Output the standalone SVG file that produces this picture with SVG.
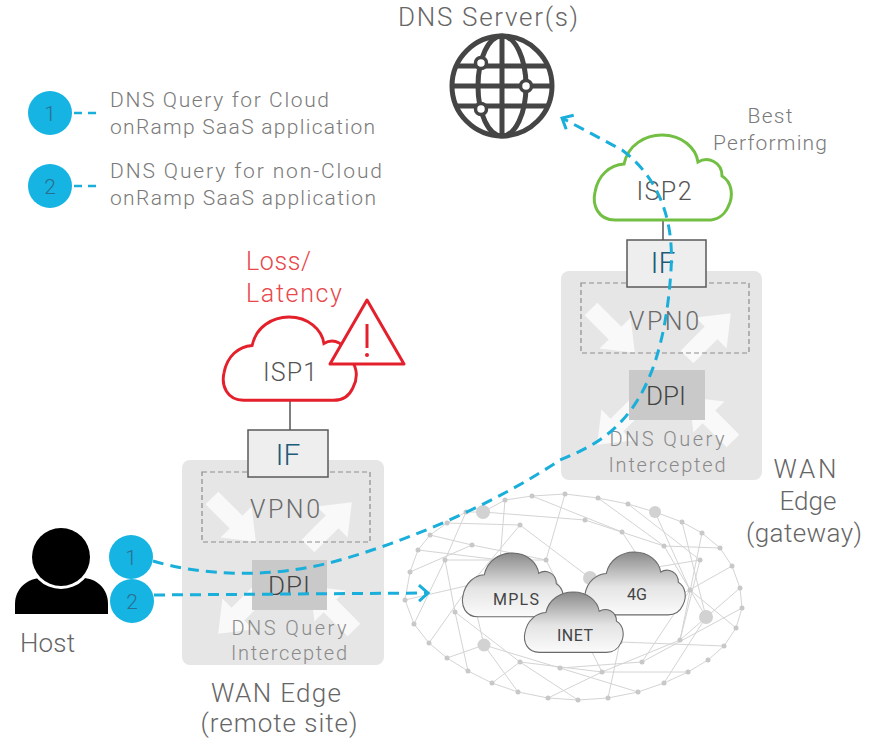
<svg xmlns="http://www.w3.org/2000/svg" xmlns:xlink="http://www.w3.org/1999/xlink" width="874" height="741" viewBox="0 0 874 741">
  <defs>
    <style>
      text { font-family: Roboto, "Open Sans", "Liberation Sans", sans-serif; font-weight: 300; }
      .lbl { fill: #7a7a7a; font-size: 21px; }
      .big { fill: #666666; font-size: 26px; }
      .dev-box { fill: #e6e6e6; }
      .dev-dash { fill: none; stroke: #8c8c8c; stroke-width: 1.2; stroke-dasharray: 5 3; }
      .dev-arrow { fill: #ffffff; opacity: 0.75; }
      .dpi-box { fill: #c9c9c9; }
      .if-box { fill: #eeeeee; stroke: #5a5a5a; stroke-width: 1.5; }
      .if-txt { fill: #1d5b79; font-size: 30px; text-anchor: middle; }
      .vpn-txt { fill: #6a6a6a; font-size: 25px; text-anchor: middle; }
      .dpi-txt { fill: #444444; font-size: 26px; text-anchor: middle; }
      .sub-txt { fill: #8a8a8a; font-size: 20px; text-anchor: middle; }
      .badge { fill: #16b4e3; }
      .badge-txt { fill: #2a6f8f; font-size: 21px; text-anchor: middle; }
      .flow { fill: none; stroke: #1aaedb; stroke-width: 3; stroke-dasharray: 11 7; }
      .mesh { fill: none; stroke: #d4d4d4; stroke-width: 1; }
      .node { fill: #c8c8c8; }
      .node-big { fill: #d2d2d2; }
      .cloud-sm { fill: url(#cloudGrad); stroke: #6a6a6a; stroke-width: 1.5; vector-effect: non-scaling-stroke; }
      .cloud-sm-txt { fill: #444444; font-size: 16px; text-anchor: middle; font-weight: 400; }
      .isp-txt { fill: #555555; font-size: 25px; text-anchor: middle; }
      .link { stroke: #555555; stroke-width: 1.5; }
    </style>
    <linearGradient id="cloudGrad" x1="0" y1="0" x2="0" y2="1">
      <stop offset="0" stop-color="#8a8a8a"/>
      <stop offset="0.55" stop-color="#e4e4e4"/>
      <stop offset="1" stop-color="#fbfbfb"/>
    </linearGradient>
    <!-- generic cloud outline, 139 x 85 -->
    <path id="cloud" d="M20,85 C3,85 -3,70 0,57 C3,40 15,30 29,29 C33,10 50,0 67,0 C87,0 101,13 103,27 C113,21 127,27 127,41 C137,47 139,61 133,72 C129,81 121,85 113,85 Z"/>
    <!-- fat arrow of the router symbol, pointing +x -->
    <path id="rarrow" d="M0,-9 H34 V-22 L62,0 L34,22 V9 H0 Z"/>
    <marker id="chev" viewBox="-12 -10 14 20" markerWidth="14" markerHeight="20" refX="0" refY="0" orient="auto" markerUnits="userSpaceOnUse">
      <path d="M-9,-8 L0,0 L-9,8" fill="none" stroke="#1aaedb" stroke-width="3" stroke-linejoin="miter"/>
    </marker>
  </defs>

  <rect width="874" height="741" fill="#ffffff"/>

  <!-- legend -->
  <g id="legend">
    <circle class="badge" cx="50" cy="113" r="22"/>
    <text class="badge-txt" x="50" y="121">1</text>
    <line x1="74" y1="113" x2="97" y2="113" stroke="#1aaedb" stroke-width="2.5" stroke-dasharray="8 6"/>
    <text class="lbl" x="110" y="107" textLength="219">DNS Query for Cloud</text>
    <text class="lbl" x="110" y="134" textLength="265">onRamp SaaS application</text>
    <circle class="badge" cx="50" cy="186" r="22"/>
    <text class="badge-txt" x="50" y="194">2</text>
    <line x1="74" y1="186" x2="97" y2="186" stroke="#1aaedb" stroke-width="2.5" stroke-dasharray="8 6"/>
    <text class="lbl" x="110" y="178" textLength="272">DNS Query for non-Cloud</text>
    <text class="lbl" x="110" y="205" textLength="266">onRamp SaaS application</text>
  </g>

  <!-- DNS servers -->
  <g id="dns-server">
    <text class="big" x="398" y="26" font-size="24" textLength="180">DNS Server(s)</text>
    <g fill="none" stroke="#454545" stroke-width="5">
      <circle cx="502" cy="86" r="50"/>
      <ellipse cx="502" cy="86" rx="24" ry="50"/>
      <line x1="502" y1="36" x2="502" y2="136"/>
      <line x1="456" y1="66" x2="548" y2="66"/>
      <line x1="452" y1="86" x2="552" y2="86"/>
      <line x1="456" y1="106" x2="548" y2="106"/>
    </g>
    <g fill="#ffffff" stroke="#454545" stroke-width="3.5">
      <circle cx="481" cy="63" r="5.5"/>
      <circle cx="481" cy="109" r="5.5"/>
      <circle cx="526" cy="86" r="5.5"/>
    </g>
  </g>

  <!-- transport mesh -->
  <g id="transport">
    <path class="mesh" d="M405,600 L410,572 L418,550 L430,535 L447,523 L466,512 L483,512 L505,500 L532,496 L565,494 M598,498 L628,504 L655,512 L682,522 L702,533 L720,548 L732,566 L740,588 L742,608 L736,628 M724,646 L708,660 L688,672 L664,683 L638,692 L608,698 L578,700 L548,698 L518,692 M492,683 L468,671 L447,658 L429,643 L414,624 L405,600"/>
    <path class="mesh" d="M410,572 L472,545 M418,550 L500,560 M447,523 L520,525 M483,512 L585,520 M505,500 L500,560 M532,496 L622,532 M598,498 L664,546 M628,504 L700,560 M655,512 L690,590 M682,522 L706,617 M702,533 L680,640 M732,566 L668,602 M740,588 L680,640 M742,608 L642,662 M724,646 L620,642 M688,672 L602,672 M638,692 L560,668 M578,700 L520,662 M518,692 L484,645 M468,671 L455,612 M429,643 L470,585 M414,624 L445,560 M445,560 L500,560 M472,545 L546,560 M520,525 L590,578 M585,520 L664,546 M622,532 L668,602 M664,546 L706,617 M700,560 L680,640 M690,590 L642,662 M706,617 L664,683 M680,640 L602,672 M642,662 L560,668 M602,672 L520,662 M560,668 L484,645 M520,662 L455,612 M484,645 L470,585 M455,612 L445,560 M470,585 L520,525 M500,560 L546,560 M546,560 L602,672 M590,578 L620,642 M590,578 L700,560 M405,600 L470,585 M447,658 L484,645 M492,683 L520,662 M548,698 L602,672 M608,698 L620,642 M736,628 L690,590 M720,548 L664,546 M565,494 L546,560 M466,512 L445,560 M430,535 L472,545 M565,494 L598,498 M518,692 L492,683 M736,628 L724,646"/>
    <g class="node">
      <circle cx="405" cy="600" r="2.5"/><circle cx="410" cy="572" r="2.5"/><circle cx="418" cy="550" r="2.5"/><circle cx="430" cy="535" r="2.5"/>
      <circle cx="447" cy="523" r="2.5"/><circle cx="466" cy="512" r="2.5"/><circle cx="505" cy="500" r="2.5"/><circle cx="532" cy="496" r="2.5"/>
      <circle cx="565" cy="494" r="2.5"/><circle cx="598" cy="498" r="2.5"/><circle cx="628" cy="504" r="2.5"/><circle cx="682" cy="522" r="2.5"/>
      <circle cx="702" cy="533" r="2.5"/><circle cx="720" cy="548" r="2.5"/><circle cx="732" cy="566" r="2.5"/><circle cx="740" cy="588" r="2.5"/>
      <circle cx="742" cy="608" r="2.5"/><circle cx="736" cy="628" r="2.5"/><circle cx="724" cy="646" r="2.5"/><circle cx="708" cy="660" r="2.5"/>
      <circle cx="688" cy="672" r="2.5"/><circle cx="664" cy="683" r="2.5"/><circle cx="638" cy="692" r="2.5"/><circle cx="608" cy="698" r="2.5"/>
      <circle cx="578" cy="700" r="2.5"/><circle cx="548" cy="698" r="2.5"/><circle cx="518" cy="692" r="2.5"/><circle cx="492" cy="683" r="2.5"/>
      <circle cx="468" cy="671" r="2.5"/><circle cx="447" cy="658" r="2.5"/><circle cx="429" cy="643" r="2.5"/><circle cx="414" cy="624" r="2.5"/>
      <circle cx="445" cy="560" r="2.5"/><circle cx="472" cy="545" r="2.5"/><circle cx="520" cy="525" r="2.5"/><circle cx="585" cy="520" r="2.5"/>
      <circle cx="622" cy="532" r="2.5"/><circle cx="664" cy="546" r="2.5"/><circle cx="700" cy="560" r="2.5"/><circle cx="690" cy="590" r="2.5"/>
      <circle cx="680" cy="640" r="2.5"/><circle cx="642" cy="662" r="2.5"/><circle cx="602" cy="672" r="2.5"/><circle cx="560" cy="668" r="2.5"/>
      <circle cx="520" cy="662" r="2.5"/><circle cx="455" cy="612" r="2.5"/><circle cx="470" cy="585" r="2.5"/><circle cx="500" cy="560" r="2.5"/>
      <circle cx="620" cy="642" r="2.5"/><circle cx="668" cy="602" r="2.5"/><circle cx="546" cy="560" r="2.5"/>
    </g>
    <g class="node-big">
      <circle cx="483" cy="512" r="7"/><circle cx="655" cy="512" r="6"/><circle cx="706" cy="617" r="7"/>
      <circle cx="484" cy="645" r="6.5"/><circle cx="590" cy="578" r="7"/>
    </g>
  </g>

  <g id="cloud-mpls">
    <use xlink:href="#cloud" class="cloud-sm" transform="translate(463,553) scale(0.735,0.75)"/>
    <text class="cloud-sm-txt" x="516" y="605" textLength="46">MPLS</text>
  </g>
  <g id="cloud-4g">
    <use xlink:href="#cloud" class="cloud-sm" transform="translate(585,552) scale(0.735,0.74)"/>
    <text class="cloud-sm-txt" x="637" y="600">4G</text>
  </g>
  <g id="cloud-inet">
    <use xlink:href="#cloud" class="cloud-sm" transform="translate(525,592) scale(0.72,0.71)"/>
    <text class="cloud-sm-txt" x="575" y="641" textLength="36">INET</text>
  </g>

  <!-- ISP clouds -->
  <g id="isp2">
    <line class="link" x1="663" y1="220" x2="663" y2="240"/>
    <use xlink:href="#cloud" transform="translate(595,135)" fill="#ffffff" stroke="#72bf44" stroke-width="3"/>
    <text class="isp-txt" x="664" y="200" textLength="55">ISP2</text>
    <text class="lbl" x="770" y="123" text-anchor="middle" textLength="45">Best</text>
    <text class="lbl" x="770" y="150" text-anchor="middle" textLength="114">Performing</text>
  </g>

  <g id="isp1">
    <line class="link" x1="290" y1="400" x2="290" y2="430"/>
    <use xlink:href="#cloud" transform="translate(224,317) scale(0.97,0.98)" fill="#ffffff" stroke="#e3202b" stroke-width="3"/>
    <text class="isp-txt" x="290" y="381" textLength="54">ISP1</text>
    <path d="M367,300 L404,364 L330,364 Z" fill="#ffffff" stroke="#e3202b" stroke-width="3" stroke-linejoin="round"/>
    <line x1="367" y1="324" x2="367" y2="348" stroke="#e3202b" stroke-width="3"/>
    <circle cx="367" cy="355" r="2" fill="#e3202b"/>
    <text x="246" y="270" font-size="25" fill="#e8474b" textLength="65">Loss/</text>
    <text x="246" y="302" font-size="25" fill="#e8474b" textLength="96">Latency</text>
  </g>

  <!-- WAN edge, gateway -->
  <g id="edge-gateway" transform="translate(561,271)">
    <rect class="dev-box" x="0" y="0" width="201" height="209" rx="8"/>
    <use xlink:href="#rarrow" class="dev-arrow" transform="translate(30,38) rotate(45)"/>
    <use xlink:href="#rarrow" class="dev-arrow" transform="translate(126,86) rotate(-45)"/>
    <use xlink:href="#rarrow" class="dev-arrow" transform="translate(80,130) rotate(135)"/>
    <use xlink:href="#rarrow" class="dev-arrow" transform="translate(172,170) rotate(-135)"/>
    <rect class="dev-dash" x="20" y="12" width="168" height="70"/>
    <text class="vpn-txt" x="103" y="59" textLength="70">VPN0</text>
    <rect class="dpi-box" x="68" y="99" width="76" height="50"/>
    <text class="dpi-txt" x="105" y="134" textLength="40">DPI</text>
    <text class="sub-txt" x="106" y="175" textLength="115">DNS Query</text>
    <text class="sub-txt" x="106" y="201" textLength="117">Intercepted</text>
    <rect class="if-box" x="66" y="-31" width="79" height="47"/>
    <text class="if-txt" x="102" y="2">IF</text>
  </g>
  <g id="label-gateway">
    <text class="big" x="805" y="478" text-anchor="middle" font-size="26" textLength="63">WAN</text>
    <text class="big" x="808" y="510" text-anchor="middle" font-size="26" textLength="57">Edge</text>
    <text class="big" x="746" y="542" font-size="26" textLength="116">(gateway)</text>
  </g>

  <!-- WAN edge, remote site -->
  <g id="edge-remote" transform="translate(182,460)">
    <rect class="dev-box" x="0" y="0" width="202" height="205" rx="8"/>
    <use xlink:href="#rarrow" class="dev-arrow" transform="translate(30,38) rotate(45)"/>
    <use xlink:href="#rarrow" class="dev-arrow" transform="translate(126,86) rotate(-45)"/>
    <use xlink:href="#rarrow" class="dev-arrow" transform="translate(80,130) rotate(135)"/>
    <use xlink:href="#rarrow" class="dev-arrow" transform="translate(172,170) rotate(-135)"/>
    <rect class="dev-dash" x="20" y="12" width="168" height="70"/>
    <text class="vpn-txt" x="103" y="58" textLength="70">VPN0</text>
    <rect class="dpi-box" x="70" y="100" width="75" height="50"/>
    <text class="dpi-txt" x="107" y="135" textLength="42">DPI</text>
    <text class="sub-txt" x="107" y="175" textLength="115">DNS Query</text>
    <text class="sub-txt" x="107" y="200" textLength="116">Intercepted</text>
    <rect class="if-box" x="66" y="-30" width="80" height="47"/>
    <text class="if-txt" x="106" y="5">IF</text>
  </g>
  <g id="label-remote">
    <text class="big" x="276" y="702" text-anchor="middle" font-size="25" textLength="130">WAN Edge</text>
    <text class="big" x="279" y="732" text-anchor="middle" font-size="25" textLength="157">(remote site)</text>
  </g>

  <!-- host -->
  <g id="host">
    <path d="M15,614 L15,604 C15,588 28,578 42,578 L82,578 C96,578 108,588 108,604 L108,614 Z" fill="#000000"/>
    <circle cx="61" cy="557" r="32" fill="#ffffff"/>
    <circle cx="61" cy="557" r="29" fill="#000000"/>
    <text class="big" x="20" y="652" font-size="27" textLength="55">Host</text>
  </g>

  <!-- flows -->
  <g id="connectors">
    <path class="flow" d="M153,561 C200,575 270,580 340,560 C420,537 500,500 560,460 C610,440 662,410 671,270 C674,225 662,180 622,150 L562,118" marker-end="url(#chev)"/>
    <path class="flow" d="M154,595 L428,593" marker-end="url(#chev)"/>
  </g>

  <g id="host-badges">
    <circle class="badge" cx="131" cy="557" r="22"/>
    <text class="badge-txt" x="131" y="565">1</text>
    <circle class="badge" cx="132" cy="601" r="22"/>
    <text class="badge-txt" x="132" y="609">2</text>
  </g>
</svg>
